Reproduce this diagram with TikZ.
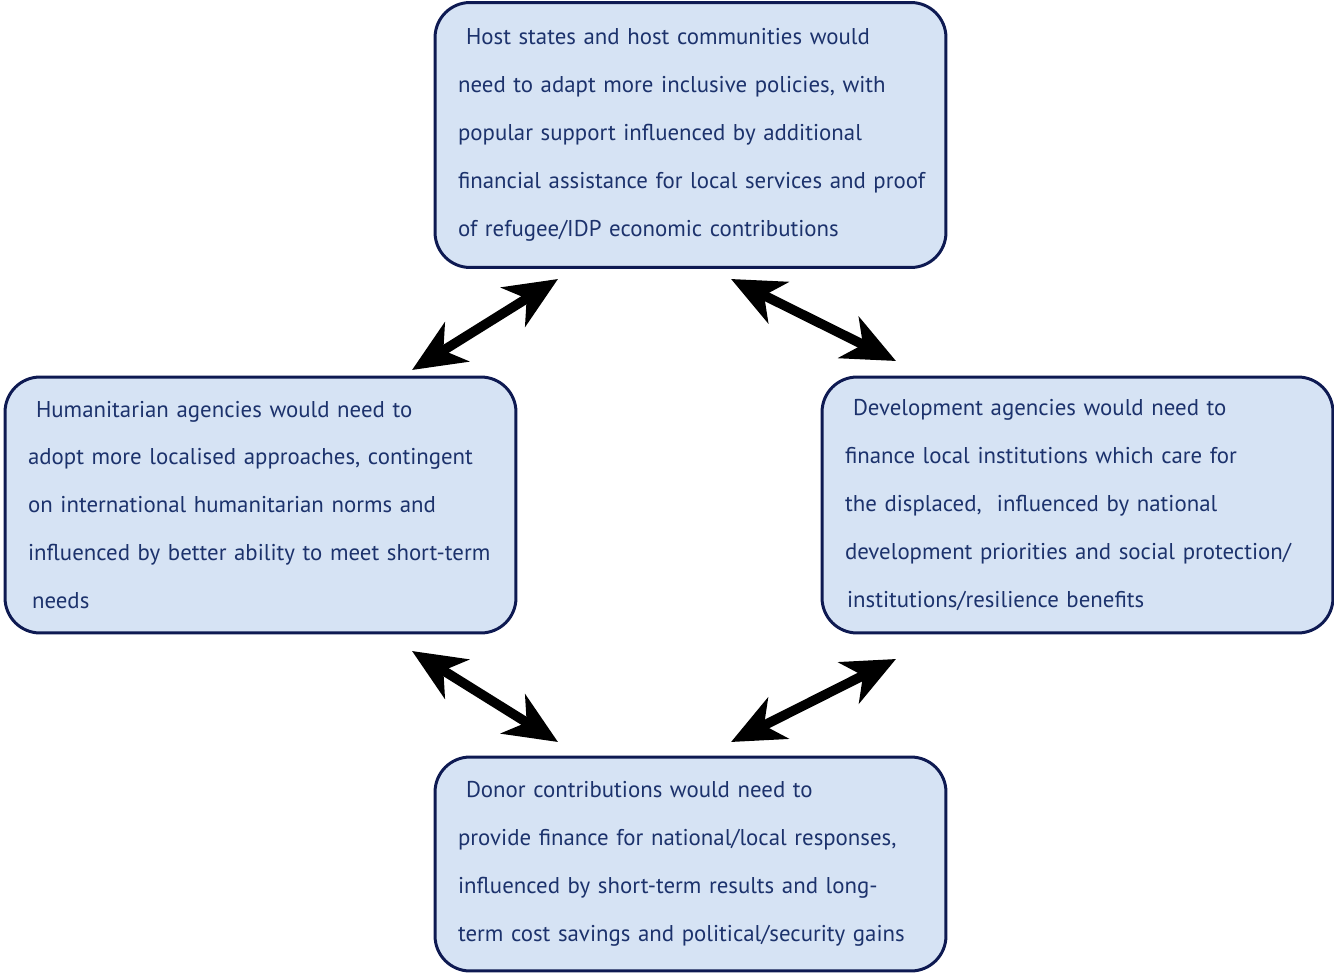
\documentclass[tikz,border=0pt]{standalone}
\usepackage{fontspec}
\setmainfont{PT Sans}
\usetikzlibrary{arrows.meta}
\definecolor{boxfill}{RGB}{214,227,244}
\definecolor{boxline}{RGB}{14,26,82}
\definecolor{boxtext}{RGB}{28,50,108}
\begin{document}
\begin{tikzpicture}[x=0.02cm,y=-0.02cm,
	box/.style={draw=boxline,fill=boxfill,line width=1.7pt,rounded corners=0.7cm,
		text=boxtext,align=left,text width=9.3cm,inner xsep=0.46cm,minimum width=10.22cm,
		font=\fontsize{13}{27.3}\selectfont},
	link/.style={line width=5.5pt,{Stealth[length=30pt,width=26pt,inset=9pt]}-{Stealth[length=30pt,width=26pt,inset=9pt]}}]
	\useasboundingbox (0,0) rectangle (1334,973);
	\node[box,minimum height=5.3cm] (host) at (690.5,135) {\hspace*{0.16cm}Host states and host communities would\\
		need to adapt more inclusive policies, with\\
		popular support influenced by additional\\
		\mbox{financial assistance for local services and proof}\\
		of refugee/IDP economic contributions};
	\node[box,minimum height=5.12cm] (hum) at (260.5,505) {\hspace*{0.16cm}Humanitarian agencies would need to\\
		adopt more localised approaches, contingent\\
		on international humanitarian norms and\\
		\mbox{influenced by better ability to meet short-term}\\
		\hspace*{0.08cm}needs};
	\node[box,minimum height=5.12cm] (dev) at (1077.5,505) {\hspace*{0.16cm}Development agencies would need to\\
		finance local institutions which care for\\
		the displaced,~ influenced by national\\
		\mbox{development priorities and social protection/}\\
		\hspace*{0.04cm}institutions/resilience benefits};
	\node[box,minimum height=4.28cm] (donor) at (690.5,864) {\hspace*{0.16cm}Donor contributions would need to\\
		\mbox{provide finance for national/local responses,}\\
		influenced by short-term results and long-\\
		\mbox{term cost savings and political/security gains}};
	% arrow ends
	\coordinate (a1) at (412,370);
	\coordinate (a2) at (558,279);
	\coordinate (b1) at (731,279);
	\coordinate (b2) at (896,361);
	\coordinate (c1) at (412,651);
	\coordinate (c2) at (558,742);
	\coordinate (d1) at (896,659);
	\coordinate (d2) at (731,742);
	\draw[link] (a1) -- (a2);
	\draw[link] (b1) -- (b2);
	\draw[link] (c1) -- (c2);
	\draw[link] (d1) -- (d2);
\end{tikzpicture}
\end{document}
